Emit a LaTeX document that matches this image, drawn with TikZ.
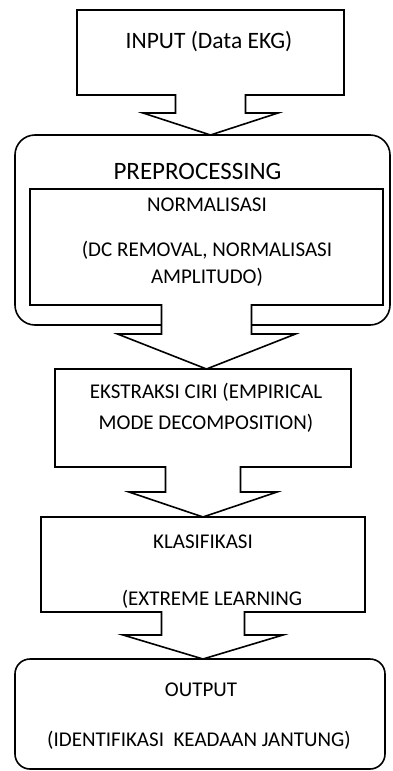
\documentclass[tikz,border=0pt]{standalone}
\usepackage{fontspec}
\setmainfont{Carlito}
\usetikzlibrary{calc}

\begin{document}
\begin{tikzpicture}[x=1pt, y=-1pt, line width=1.6pt,
    b/.style={rectangle, draw, fill=white, inner sep=0pt, outer sep=0pt},
    rb/.style={b, rounded corners=20pt},
    txt/.style={align=center, inner sep=0pt, font=\fontsize{21}{27}\selectfont},
    panah/.style={draw, fill=white, line join=miter}]
    \useasboundingbox (0,0) rectangle (392,771);
    % kotak
    \node[b, minimum width=267pt, minimum height=85pt] (inp) at (210.5,52.5) {};
    \node[rb, minimum width=375pt, minimum height=190pt] (pre) at (202.5,230) {};
    \node[b, minimum width=353pt, minimum height=116pt] (norm) at (206.5,247) {};
    \node[b, minimum width=296pt, minimum height=98pt] (eks) at (203,418) {};
    \node[b, minimum width=324pt, minimum height=95pt] (kla) at (203,564.5) {};
    \node[rb, rounded corners=15pt, minimum width=370pt,
      minimum height=110pt] (out) at (200,714) {};
    % teks
    \node[txt, font=\fontsize{23.5}{28}\selectfont] (tInp) at (209,42) {INPUT (Data EKG)};
    \node[txt, font=\fontsize{25}{30}\selectfont] (tPre) at (197.5,171) {PREPROCESSING};
    \node[txt] (tNorm) at (207,205) {NORMALISASI};
    \node[txt] (tDc) at (207,263.5) {(DC REMOVAL, NORMALISASI\\AMPLITUDO)};
    \node[txt, font=\fontsize{21}{31}\selectfont] (tEks) at (206,407.5)
      {EKSTRAKSI CIRI (EMPIRICAL\\MODE DECOMPOSITION)};
    \node[txt] (tKla) at (203,542) {KLASIFIKASI};
    \node[txt] (tElm) at (212,599) {(EXTREME LEARNING};
    \node[txt] (tOut) at (201,690) {OUTPUT};
    \node[txt] (tId) at (199,740) {(IDENTIFIKASI\ \ KEADAAN JANTUNG)};
    % panah blok
    \foreach \a/\b/\s/\k/\p in {inp/pre/35/67.5/18, norm/eks/45/89/29,
        eks/kla/37.5/74/25, kla/out/41.5/80/23}
      \filldraw[panah] ($(\a.south)+(-\s,-1)$) -- ++(0,\p+1)
        -- ($(\a.south)+(-\k,\p)$) -- (\a.south |- \b.north)
        -- ($(\a.south)+(\k,\p)$) -- ($(\a.south)+(\s,\p)$)
        -- ($(\a.south)+(\s,-1)$);
  \end{tikzpicture}
\end{document}
